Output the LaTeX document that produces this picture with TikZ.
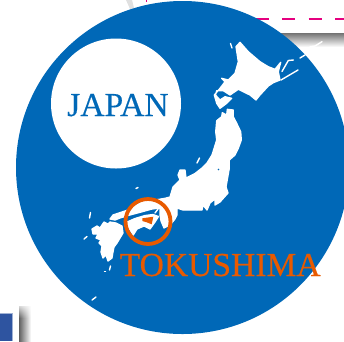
\documentclass[tikz,border=0pt]{standalone}
\usepackage{fontspec}
\setmainfont{Liberation Serif}
\newfontfamily\labelfont[FakeBold=0.4]{Liberation Serif}
\usetikzlibrary{fadings}
\definecolor{seablue}{HTML}{0068B7}
\definecolor{tokorange}{HTML}{E85A00}
\definecolor{pinkdash}{HTML}{E5007F}
\definecolor{cornerblue}{HTML}{2E54A0}
\tikzset{
  land/.style={fill=white,draw=white,line width=1.3pt,line join=round},
  islet/.style={draw=white,line width=1.4pt,line cap=round},
  maplabel/.style={inner sep=0pt,anchor=base west,font=\labelfont\fontsize{33.6}{34}\selectfont},
}
\begin{document}
\begin{tikzpicture}[x=1pt,y=-1pt]
\useasboundingbox (0,0) rectangle (344,341);
% page furniture behind the disc
\shade[top color=black!55,bottom color=white] (270,33) rectangle (344,47);
\fill[black!12] (126,0) -- (132,0) -- (134,8) -- (130,9) -- cycle;
\fill[pinkdash] (145.5,0) rectangle (147,1.5);
\draw[pinkdash,line width=2pt,dash pattern=on 13.3pt off 13.3pt] (255.4,19) -- (344,19);
% bottom-left panel
\shade[left color=black!62,right color=white] (19,306) rectangle (31,341);
\fill[white,path fading=south] (18,302) rectangle (32,318);
\fill[cornerblue] (0,313) rectangle (12,341);
\draw[cornerblue!45,line width=0.6pt] (0,313) -- (12,313) -- (12,341);
% sea disc
\fill[seablue] (182.5,167.5) circle[radius=166.5];
% Hokkaido
\path[land] (240,42.3) -- (248.3,51.7) -- (260,61.7) -- (268.3,66.7) -- (275,69.3) -- (280.7,62.3) -- (278.3,71.7) -- (280,80) -- (273.3,82.7) -- (268.3,86) -- (260,95) -- (256,100) -- (250,95) -- (238.3,89.3) -- (230,95) -- (223.3,90.7) -- (216.7,90.7) -- (215.5,95) -- (220,100) -- (225,96.7) -- (231.7,98.3) -- (226.7,103.3) -- (220,108.3) -- (216.7,103.3) -- (214.3,95) -- (220,88.3) -- (225,81.7) -- (221.7,78.3) -- (228.3,80) -- (235,73.3) -- (238.3,61.7) -- (236,46.7) -- cycle;
% Honshu
\path[land] (216.7,120.7) -- (221.7,116.7) -- (222.3,112.7) -- (226.7,115) -- (227.3,109.3) -- (233.3,110) -- (233.3,116.7) -- (236.7,123.3) -- (240.7,131.7) -- (241.3,140) -- (238.3,148.3) -- (235,155) -- (229.3,160) -- (229.3,168.3) -- (226,187) -- (228,193) -- (220,202) -- (215,205) -- (215,199) -- (210,203) -- (207,210) -- (203,205) -- (202,210) -- (192,210) -- (183,210) -- (177,208) -- (177,215) -- (175,219) -- (170,225) -- (164,228) -- (161,221) -- (160,215) -- (160,208) -- (152,209) -- (143,211.5) -- (128,215.5) -- (120,218) -- (115,220) -- (110,219) -- (113,215) -- (128,210) -- (142,202) -- (155,200) -- (165,198.3) -- (170,197) -- (173,187) -- (180,180) -- (178,175) -- (180,170) -- (185,170) -- (186,178) -- (195,173.5) -- (202,168) -- (207,163) -- (212,155) -- (216.7,140) -- (215.7,131.7) -- cycle;
% Shikoku
\path[land] (127,222) -- (135,218.5) -- (145,215.5) -- (153,214.5) -- (158.5,216.5) -- (155,222) -- (150,229) -- (144,226) -- (137,229) -- (133.3,235) -- (127,225) -- cycle;
% Kyushu
\path[land] (92,229) -- (97,226) -- (100,228) -- (104,222) -- (108,224) -- (110,222) -- (116,223) -- (122,226) -- (123,233) -- (120,238) -- (117,243) -- (114,247) -- (113,252) -- (112,258) -- (108,261) -- (106,255) -- (103,258) -- (101,252) -- (102,246) -- (99,243) -- (101,240) -- (96,238) -- (98,234) -- (93,234) -- cycle;
% small islands
\draw[islet] (282,71.5) -- (288.3,60.5) -- (293.5,60);
\draw[islet] (281,80) -- (298,70);
\draw[islet] (300,58) -- (305,55);
\draw[islet] (310,46.7) -- (315,46) -- (322,41.7);
\draw[islet] (230.5,43.5) -- (232,48);
\draw[islet] (197,163) -- (199.5,158);
\draw[islet] (155,213) -- (158,209);
\draw[islet] (90.5,212.5) -- (89.5,218);
\draw[islet] (84,239) -- (87,236.5);
\draw[islet] (110.5,266) -- (109.5,270);
\draw[islet] (104.5,271.5) -- (105.5,271.5);
\draw[islet] (92,300) -- (96,297);
\draw[islet] (136,188.5) -- (138,187.5);
% details on the land
\fill[seablue] (218.5,169.5) circle[radius=0.8];
\fill[tokorange] (142.3,218.3) -- (153.3,216.7) -- (151.7,224.3) -- (146.7,222.3) -- (142.3,221) -- cycle;
\coordinate (tokring) at (148,221.5);
\draw[tokorange,line width=3.8pt] (tokring) circle[radius=22.5];
% label disc
\fill[white] (116,103.5) circle[radius=65];
\node[maplabel,text=seablue] (japan) at (67,116) {JAPAN};
\node[maplabel,text=tokorange] (tokushima) at (119.5,276) {TOKUSHIMA};
\end{tikzpicture}
\end{document}
